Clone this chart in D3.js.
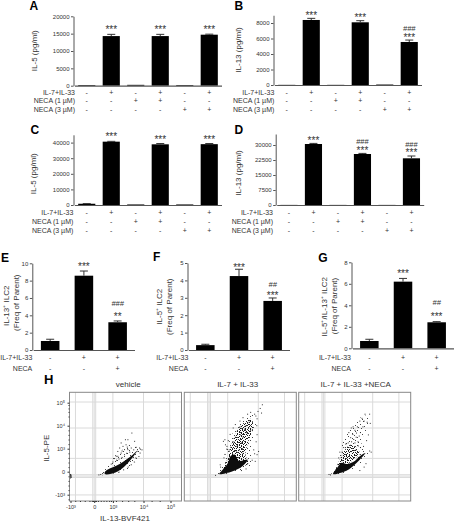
<!DOCTYPE html>
<html>
<head>
<meta charset="utf-8">
<script src="https://cdn.jsdelivr.net/npm/d3@7"></script>
<style>
    body { margin: 0; background: #fff; }
    svg { display: block; font-family: "Liberation Sans", Arial, sans-serif; }
    text { fill: #333; }
</style>
</head>
<body>
<div id="chart"></div>
<script>
// bar data
const groups6 = ['g1', 'g2', 'g3', 'g4', 'g5', 'g6'];
const groups3 = ['g1', 'g2', 'g3'];

const il7Row6 = ['-', '+', '-', '+', '-', '+'];
const neca1Row = ['-', '-', '+', '+', '-', '-'];
const neca3Row = ['-', '-', '-', '-', '+', '+'];
const il7Row3 = ['-', '+', '+'];
const necaRow3 = ['-', '-', '+'];

const valuesA = [200, 14300, 250, 14300, 200, 14700];
const errorsA = [0, 500, 0, 500, 0, 150];
const starsA = ['', '***', '', '***', '', '***'];

const valuesB = [20, 8390, 20, 8090, 60, 5550];
const errorsB = [0, 210, 0, 210, 0, 250];
const starsB = ['', '***', '', '***', '', '***'];
const hashB = ['', '', '', '', '', '###'];

const valuesC = [800, 40600, 350, 38900, 350, 39000];
const errorsC = [100, 200, 0, 500, 0, 400];
const starsC = ['', '***', '', '***', '', '***'];

const valuesD = [50, 30500, 50, 25500, 50, 23350];
const errorsD = [0, 300, 0, 300, 0, 1150];
const starsD = ['', '***', '', '***', '', '***'];
const hashD = ['', '', '', '###', '', '###'];

const valuesE = [1.04, 8.57, 3.2];
const errorsE = [0.2, 0.54, 0.15];
const starsE = ['', '***', '**'];
const hashE = ['', '', '###'];

const valuesF = [0.28, 4.25, 2.82];
const errorsF = [0.05, 0.39, 0.17];
const starsF = ['', '***', '***'];
const hashF = ['', '', '##'];

const valuesG = [0.68, 6.2, 2.42];
const errorsG = [0.16, 0.3, 0.06];
const starsG = ['', '***', '***'];
const hashG = ['', '', '##'];

// flow plots, in axis units: -1 = -10^3, 0 = 0, 1 = 10^3, 2 = 10^4, 3 = 10^5
const flowTicks = [-1, 0, 1, 2, 3];
const flowTickX = ['-10³', '0', '10³', '10⁴', '10⁵'];
const flowGridX = [-0.79, -0.06, 0, 0.08, 1, 2, 2.97];
const flowGridY = [3.03, 1.9, 0.58, -0.13, -0.19, -0.25, -1.01];
const flowMinorX = [-0.8, -0.6, -0.4, -0.2, -0.1, -0.05, 0.05, 0.1, 0.2, 0.35, 0.5, 0.65, 0.8, 0.9, 1.1, 1.3, 1.5, 1.7, 2.3, 2.6];
const flowMinorY = [2.9, 2.75, 2.6, 2.4, 1.8, 1.6, 1.4, 1.2, 0.8, 0.6, 0.4, 0.2, -0.2, -0.4, -0.6, -0.8, -1.2];

const vehicleCore = [[0.57, -0.1], [0.91, -0.09], [1.22, 0.06], [1.49, 0.38], [1.71, 0.74], [1.8, 0.92], [1.65, 0.74], [1.43, 0.52], [1.22, 0.33], [1, 0.19], [0.73, 0.1], [0.57, -0.01]];
const vehicleHalo = [[0.29, -0.13], [0.73, 0.23], [1.05, 0.67], [1.33, 0.96], [1.65, 1.1], [1.89, 1.06], [1.78, 0.52], [1.54, 0.16], [1.11, -0.06]];
const vehicleDots = [[1.62, 1.68], [1.41, 1.39], [1.49, 1.39], [1.71, 1.32], [1.27, 1.25], [1.33, 1.1], [1.43, 1.17], [1.54, 1.14],
    [1.22, 1.03], [1.16, 0.88], [1.38, 0.96], [1.49, 0.96], [1.6, 1.03], [1.76, 1.06], [1.87, 1.03], [1.82, 0.88], [1.89, 0.81],
    [1.11, 0.67], [1.05, 0.57], [1.16, 0.67], [1.27, 0.81], [1.38, 0.74], [1, 0.42], [0.91, 0.33], [1.12, 0.5], [1.2, 0.55],
    [1.3, 0.62], [1.45, 0.8], [1.55, 0.85], [1.68, 0.95], [1.75, 0.6], [1.85, 0.66], [1.7, 0.42], [1.6, 0.3], [1.5, 0.2],
    [1.35, 0.08], [1.2, -0.02], [0.45, -0.08], [0.35, -0.12], [0.25, -0.14], [1.9, 0.98], [1.95, 0.95], [1.47, 1.07], [1.3, 0.9],
    [-1, -0.12], [-1, -0.17], [-1, -0.22], [-1, -0.27], [-0.97, -0.15], [-0.97, -0.2], [-0.97, -0.25]];

const il33Core = [[0.55, -0.1], [1.14, 0.01], [1.47, 0.23], [1.65, 0.52], [1.36, 0.48], [1.23, 0.74], [1.09, 0.67], [1.01, 0.38], [0.73, 0.09]];
const il33Mid = [[0.79, 0.09], [1, 0.59], [1.12, 1.17], [1.3, 1.75], [1.52, 2.12], [1.77, 2.3], [1.83, 1.93], [1.68, 1.32], [1.58, 0.74], [1.68, 0.38], [1.36, 0.16]];
const il33Halo = [[0.43, -0.1], [0.7, 0.23], [0.93, 0.88], [1.09, 1.46], [1.3, 1.97], [1.58, 2.3], [1.82, 2.48], [1.92, 2.19], [1.88, 1.68], [1.79, 1.17], [1.79, 0.67], [1.74, 0.28], [1.25, -0.01]];
const il33Dots = [[2.15, 2.91], [2.12, 2.55], [1.99, 2.62], [2.07, 2.75], [1.96, 2.3], [1.92, 2.42], [1.96, 1.61], [2.01, 0.88], [1.96, 0.74],
    [1.9, 0.45], [0.85, 1.39], [0.77, 1.32], [0.6, 0.3], [0.35, -0.16], [0.88, 1.17], [0.96, 1.1], [1.02, 1.35], [1.08, 1.62], [1.18, 1.9],
    [1.25, 2.05], [1.4, 2.2], [1.5, 2.35], [1.65, 2.5], [1.75, 2.58], [1.88, 2.5], [1.95, 2], [1.93, 1.3], [1.85, 0.95], [1.88, 0.78],
    [1.8, 0.5], [1.6, 0.12], [1.45, 0.05], [0.62, 0.2], [0.8, 0.6], [0.85, 0.75], [0.95, 0.98], [1.05, 0.95], [1.2, 1.3], [1.25, 1.5],
    [1.35, 1.4], [1.42, 1.6], [1.5, 1.5], [1.45, 1.25], [1.4, 1.95], [1.55, 1.85], [1.6, 2], [1.7, 2.15], [1.75, 1.8], [1.62, 1.7],
    [1.3, 1.1], [1.38, 0.95], [1.28, 0.9], [1.48, 1], [1.5, 0.8]];

const necaCore = [[0.52, -0.1], [1.14, 0.04], [1.47, 0.38], [1.76, 0.81], [1.62, 0.72], [1.36, 0.42], [1.14, 0.33], [0.96, 0.38], [0.73, 0.16]];
const necaMid = [[0.66, 0.01], [0.96, 0.67], [1.14, 1.03], [1.3, 1.17], [1.58, 0.81], [1.36, 0.52]];
const necaHalo = [[0.43, -0.1], [0.79, 0.38], [0.93, 1.03], [1.14, 1.68], [1.41, 2.12], [1.68, 2.41], [1.88, 2.41], [1.79, 1.83], [1.63, 1.25], [1.85, 0.81], [1.58, 0.33], [1.14, -0.01]];
const necaDots = [[1.9, 2.5], [1.75, 2.5], [1.65, 2.32], [1.58, 2.2], [1.3, 1.9], [1.22, 1.7], [1.35, 1.62], [1.28, 1.48], [1.42, 1.8],
    [1.5, 1.95], [1.56, 1.55], [1.46, 1.5], [1.38, 1.4], [1.31, 1.3], [1.2, 1.25], [1.12, 1.2], [1.05, 1.05], [1, 0.85], [1.42, 1.25],
    [1.52, 1.3], [1.6, 1.05], [1.7, 1.1], [1.8, 1.35], [1.86, 1.6], [1.92, 2.1], [1.72, 0.2], [1.58, 0.05], [1.9, 0.9], [1.95, 0.85],
    [0.38, -0.14], [0.3, -0.12], [0.88, 0.85], [0.82, 0.6], [1.26, 1.05], [1.46, 0.95], [1.53, 1.12], [1.36, 1.95], [1.47, 1.68],
    [1.6, 1.7], [1.68, 1.95], [1.72, 2.2], [1.82, 2.15], [1.78, 0.35]];

const svg = d3.select('#chart')
    .append('svg')
    .attr('width', 454)
    .attr('height', 524);

const barColor = '#000';
const axisColor = '#555';

function drawBars(p) {
    const g = svg.append('g');

    const x = d3.scaleBand()
        .domain(p.groups)
        .range(p.xRange)
        .paddingInner(p.pad)
        .paddingOuter(p.pad / 2);

    const y = d3.scaleLinear()
        .domain([0, p.yMax])
        .range(p.yRange);

    const centre = i => x(p.groups[i]) + x.bandwidth() / 2;

    // bars
    g.selectAll('rect.bar')
        .data(p.values)
        .enter()
        .append('rect')
        .attr('x', (d, i) => x(p.groups[i]))
        .attr('y', d => y(d))
        .attr('width', x.bandwidth())
        .attr('height', d => y(0) - y(d))
        .attr('fill', barColor);

    // error bars, upper half only
    p.values.forEach((v, i) => {
        if (!p.errors[i]) return;
        const top = y(v + p.errors[i]);
        g.append('line')
            .attr('x1', centre(i)).attr('x2', centre(i))
            .attr('y1', y(v)).attr('y2', top)
            .attr('stroke', '#333').attr('stroke-width', 1);
        g.append('line')
            .attr('x1', centre(i) - 4).attr('x2', centre(i) + 4)
            .attr('y1', top).attr('y2', top)
            .attr('stroke', '#333').attr('stroke-width', 1);
    });

    // axes
    const yAxis = g.append('g')
        .attr('transform', `translate(${p.xRange[0] - 1},0)`)
        .call(d3.axisLeft(y).tickValues(p.ticks).tickSize(2.5).tickSizeOuter(0).tickPadding(1.5).tickFormat(d3.format('d')));
    yAxis.selectAll('text').style('font-size', '6px');

    const xAxis = g.append('g')
        .attr('transform', `translate(0,${p.yRange[0]})`)
        .call(d3.axisBottom(x).tickSize(0).tickFormat(''));
    g.selectAll('.domain, .tick line').attr('stroke', axisColor);
    xAxis.select('.domain').attr('stroke-width', 1.2);

    // significance marks
    p.stars.forEach((s, i) => {
        if (!s) return;
        const top = y(p.values[i] + p.errors[i]);
        g.append('text')
            .attr('x', centre(i)).attr('y', top + p.starDy)
            .attr('text-anchor', 'middle')
            .style('font-size', '10px')
            .text(s);
        if (p.hash && p.hash[i]) {
            g.append('text')
                .attr('x', centre(i)).attr('y', top + p.hashDy)
                .attr('text-anchor', 'middle')
                .style('font-size', '7.5px')
                .style('font-style', p.hashItalic ? 'italic' : 'normal')
                .text(p.hash[i]);
        }
    });

    // condition rows under the axis
    p.rows.forEach((r, k) => {
        const ry = p.rowY[k];
        g.append('text')
            .attr('x', p.rowLabelX).attr('y', ry)
            .attr('text-anchor', 'end')
            .attr('dominant-baseline', 'middle')
            .style('font-size', '7px')
            .text(r.label);
        g.selectAll(null)
            .data(r.signs)
            .enter()
            .append('text')
            .attr('x', (d, i) => centre(i))
            .attr('y', ry)
            .attr('text-anchor', 'middle')
            .attr('dominant-baseline', 'middle')
            .style('font-size', '7px')
            .text(d => d);
    });

    // y title, one or two lines
    p.title.forEach(t => {
        g.append('text')
            .attr('transform', `translate(${t.x},${t.y}) rotate(-90)`)
            .attr('text-anchor', 'middle')
            .attr('dominant-baseline', 'middle')
            .style('font-size', '8px')
            .text(t.text);
    });

    g.append('text')
        .attr('x', p.letter[1]).attr('y', p.letter[2])
        .style('font-size', '12px')
        .style('font-weight', 'bold')
        .style('fill', '#000')
        .text(p.letter[0]);
}

const rows6 = [
    { label: 'IL-7+IL-33', signs: il7Row6 },
    { label: 'NECA (1 µM)', signs: neca1Row },
    { label: 'NECA (3 µM)', signs: neca3Row }
];
const rows3 = [
    { label: 'IL-7+IL-33', signs: il7Row3 },
    { label: 'NECA', signs: necaRow3 }
];

drawBars({ groups: groups6, xRange: [74.5, 221.5], pad: 0.3, yMax: 20000, yRange: [85.7, 16.3], ticks: d3.range(0, 20001, 5000),
    values: valuesA, errors: errorsA, stars: starsA, starDy: -1, rows: rows6, rowY: [92.7, 101.3, 110], rowLabelX: 75,
    title: [{ text: 'IL-5 (pg/ml)', x: 34.5, y: 50.7 }], letter: ['A', 29.5, 10] });

drawBars({ groups: groups6, xRange: [274.5, 421.5], pad: 0.3, yMax: 9000, yRange: [85, 15.25], ticks: d3.range(0, 8001, 2000),
    values: valuesB, errors: errorsB, stars: starsB, hash: hashB, hashItalic: true, starDy: 0.5, hashDy: -9, rows: rows6, rowY: [92.7, 101.3, 110], rowLabelX: 274.3,
    title: [{ text: 'IL-13 (pg/ml)', x: 238.7, y: 50 }], letter: ['B', 234.5, 10] });

drawBars({ groups: groups6, xRange: [74.5, 221.5], pad: 0.3, yMax: 45000, yRange: [205, 134.8], ticks: d3.range(0, 40001, 10000),
    values: valuesC, errors: errorsC, stars: starsC, starDy: -1, rows: rows6, rowY: [213.3, 222, 230.7], rowLabelX: 73.3,
    title: [{ text: 'IL-5 (pg/ml)', x: 34, y: 173.7 }], letter: ['C', 30.5, 134] });

drawBars({ groups: groups6, xRange: [276.7, 423.7], pad: 0.3, yMax: 35500, yRange: [205, 134], ticks: d3.range(0, 30001, 7500),
    values: valuesD, errors: errorsD, stars: starsD, hash: hashD, starDy: 0.2, hashDy: -9.5, rows: rows6, rowY: [213.3, 222, 230.7], rowLabelX: 273,
    title: [{ text: 'IL-13 (pg/ml)', x: 239.3, y: 173 }], letter: ['D', 234.5, 134] });

drawBars({ groups: groups3, xRange: [33.3, 134.5], pad: 0.45, yMax: 10, yRange: [350, 263.3], ticks: d3.range(0, 11, 2),
    values: valuesE, errors: errorsE, stars: starsE, hash: hashE, hashItalic: true, starDy: -1, hashDy: -15, rows: rows3, rowY: [358.3, 369], rowLabelX: 32.3,
    title: [{ text: 'IL-13⁺ ILC2', x: 6.7, y: 305.8 }, { text: '(Freq of Parent)', x: 16.7, y: 302.7 }], letter: ['E', 1, 261.7] });

drawBars({ groups: groups3, xRange: [188.5, 289.5], pad: 0.45, yMax: 5, yRange: [350, 263], ticks: d3.range(0, 6),
    values: valuesF, errors: errorsF, stars: starsF, hash: hashF, hashItalic: true, starDy: 1.5, hashDy: -11, rows: rows3, rowY: [358.3, 369], rowLabelX: 188.3,
    title: [{ text: 'IL-5⁺ ILC2', x: 160, y: 306.7 }, { text: '(Freq of Parent)', x: 170, y: 306.7 }], letter: ['F', 153, 261] });

drawBars({ groups: groups3, xRange: [352.5, 453.5], pad: 0.45, yMax: 8, yRange: [348.3, 262.3], ticks: d3.range(0, 9, 2),
    values: valuesG, errors: errorsG, stars: starsG, hash: hashG, hashItalic: true, starDy: -1.5, hashDy: -17, rows: rows3, rowY: [358.3, 369], rowLabelX: 351,
    title: [{ text: 'IL-5⁺/IL-13⁺ ILC2', x: 325, y: 306.7 }, { text: '(Freq of Parent)', x: 335, y: 306 }], letter: ['G', 318.3, 261.7] });

// stipple textures for the flow plots
const midTile = [
    '#..#.#..#..#.',
    '.#....#.#.#..',
    '..##.#...#..#',
    '#....#.#...#.',
    '.#.#...#.#...',
    '...#.#...##.#',
    '#.#....#.....',
    '.....#.#.#.#.',
    '.##.#.....#..',
    '#.....#.#...#',
    '..#.#..#...#.',
    '.#...#...#...',
    '...#..#.#..#.'
];
const haloTile = [
    '.........#.....',
    '...#...........',
    '............#..',
    '.......#.......',
    '#..............',
    '..........#....',
    '....#..........',
    '.............#.',
    '.#......#......',
    '...............',
    '.....#......#..',
    '..........#....',
    '#..............',
    '.......#.......',
    '..#............'
];

const defs = svg.append('defs');
function stipple(id, tile, colour) {
    const pat = defs.append('pattern')
        .attr('id', id)
        .attr('patternUnits', 'userSpaceOnUse')
        .attr('width', tile[0].length)
        .attr('height', tile.length);
    tile.forEach((row, r) => row.split('').forEach((c, k) => {
        if (c !== '#') return;
        pat.append('rect')
            .attr('x', k).attr('y', r)
            .attr('width', 1).attr('height', 1)
            .attr('fill', colour);
    }));
}
stipple('midCells', midTile, '#1a1a1a');
stipple('haloCells', haloTile, '#444');

// the reference is a soft scan, so blur the clouds a little
defs.append('filter')
    .attr('id', 'soft')
    .append('feGaussianBlur')
    .attr('stdDeviation', 0.3);

const flowY = d3.scaleLinear().domain([-1, 3]).range([494.7, 402.7]);
const flowTop = 392.3, flowBottom = 501;
const flowOffsets = [1, 24.7, 43.4, 74, 101];
const flowWidth = 112;

function drawFlow(p) {
    const g = svg.append('g');

    const x = d3.scaleLinear()
        .domain(flowTicks)
        .range(flowOffsets.map(o => p.left + o));

    g.selectAll('line.gx')
        .data(flowGridX)
        .enter()
        .append('line')
        .attr('x1', d => x(d)).attr('x2', d => x(d))
        .attr('y1', flowTop).attr('y2', flowBottom)
        .attr('stroke', '#dadada').attr('stroke-width', 1);

    g.selectAll('line.gy')
        .data(flowGridY)
        .enter()
        .append('line')
        .attr('x1', p.left).attr('x2', p.left + flowWidth)
        .attr('y1', d => flowY(d)).attr('y2', d => flowY(d))
        .attr('stroke', '#dadada').attr('stroke-width', 1);

    const outline = d3.line()
        .x(d => x(d[0]))
        .y(d => flowY(d[1]))
        .curve(d3.curveCatmullRomClosed);

    const cloud = g.append('g').attr('filter', 'url(#soft)');
    cloud.append('path').attr('d', outline(p.halo)).attr('fill', 'url(#haloCells)');
    if (p.mid) cloud.append('path').attr('d', outline(p.mid)).attr('fill', 'url(#midCells)');
    cloud.append('path').attr('d', outline(p.core)).attr('fill', '#0a0a0a');

    cloud.selectAll('rect.dot')
        .data(p.dots)
        .enter()
        .append('rect')
        .attr('x', d => x(d[0]) - 0.5)
        .attr('y', d => flowY(d[1]) - 0.5)
        .attr('width', 1)
        .attr('height', 1)
        .attr('fill', '#333');

    g.append('rect')
        .attr('x', p.left).attr('y', flowTop)
        .attr('width', flowWidth).attr('height', flowBottom - flowTop)
        .attr('fill', 'none')
        .attr('stroke', '#888')
        .attr('stroke-width', 1);

    g.append('text')
        .attr('x', p.titleX).attr('y', 386.5)
        .attr('text-anchor', 'middle')
        .style('font-size', '8px')
        .text(p.title);

    if (p.axes) {
        const bottom = g.append('g')
            .attr('transform', `translate(0,${flowBottom})`)
            .call(d3.axisBottom(x).tickValues(flowTicks).tickSize(2).tickSizeOuter(0).tickPadding(2.5).tickFormat((d, i) => flowTickX[i]));
        bottom.select('.domain').remove();
        bottom.selectAll('text').style('font-size', '5.5px');

        const bottomMinor = g.append('g')
            .attr('transform', `translate(0,${flowBottom})`)
            .call(d3.axisBottom(x).tickValues(flowMinorX).tickSize(1).tickFormat(''));
        bottomMinor.select('.domain').remove();

        const left = g.append('g')
            .attr('transform', `translate(${p.left},0)`)
            .call(d3.axisLeft(flowY).tickValues(flowTicks).tickSize(2).tickSizeOuter(0).tickPadding(2.5).tickFormat((d, i) => flowTickX[i]));
        left.select('.domain').remove();
        left.selectAll('text').style('font-size', '5.5px');

        const leftMinor = g.append('g')
            .attr('transform', `translate(${p.left},0)`)
            .call(d3.axisLeft(flowY).tickValues(flowMinorY).tickSize(1).tickFormat(''));
        leftMinor.select('.domain').remove();
        g.selectAll('.tick line').attr('stroke', '#333');

        g.append('text')
            .attr('x', 125).attr('y', 520.5)
            .attr('text-anchor', 'middle')
            .style('font-size', '8px')
            .text('IL-13-BVF421');

        g.append('text')
            .attr('transform', 'translate(47.3,448.3) rotate(-90)')
            .attr('text-anchor', 'middle')
            .attr('dominant-baseline', 'middle')
            .style('font-size', '8px')
            .text('IL-5-PE');
    }
}

drawFlow({ left: 69.5, titleX: 128.3, title: 'vehicle', axes: true, core: vehicleCore, halo: vehicleHalo, dots: vehicleDots });
drawFlow({ left: 184.3, titleX: 237.7, title: 'IL-7 + IL-33', core: il33Core, mid: il33Mid, halo: il33Halo, dots: il33Dots });
drawFlow({ left: 298.7, titleX: 355.7, title: 'IL-7 + IL-33 +NECA', core: necaCore, mid: necaMid, halo: necaHalo, dots: necaDots });

svg.append('text')
    .attr('x', 44).attr('y', 384.3)
    .style('font-size', '13px')
    .style('font-weight', 'bold')
    .style('fill', '#000')
    .text('H');
</script>
</body>
</html>
